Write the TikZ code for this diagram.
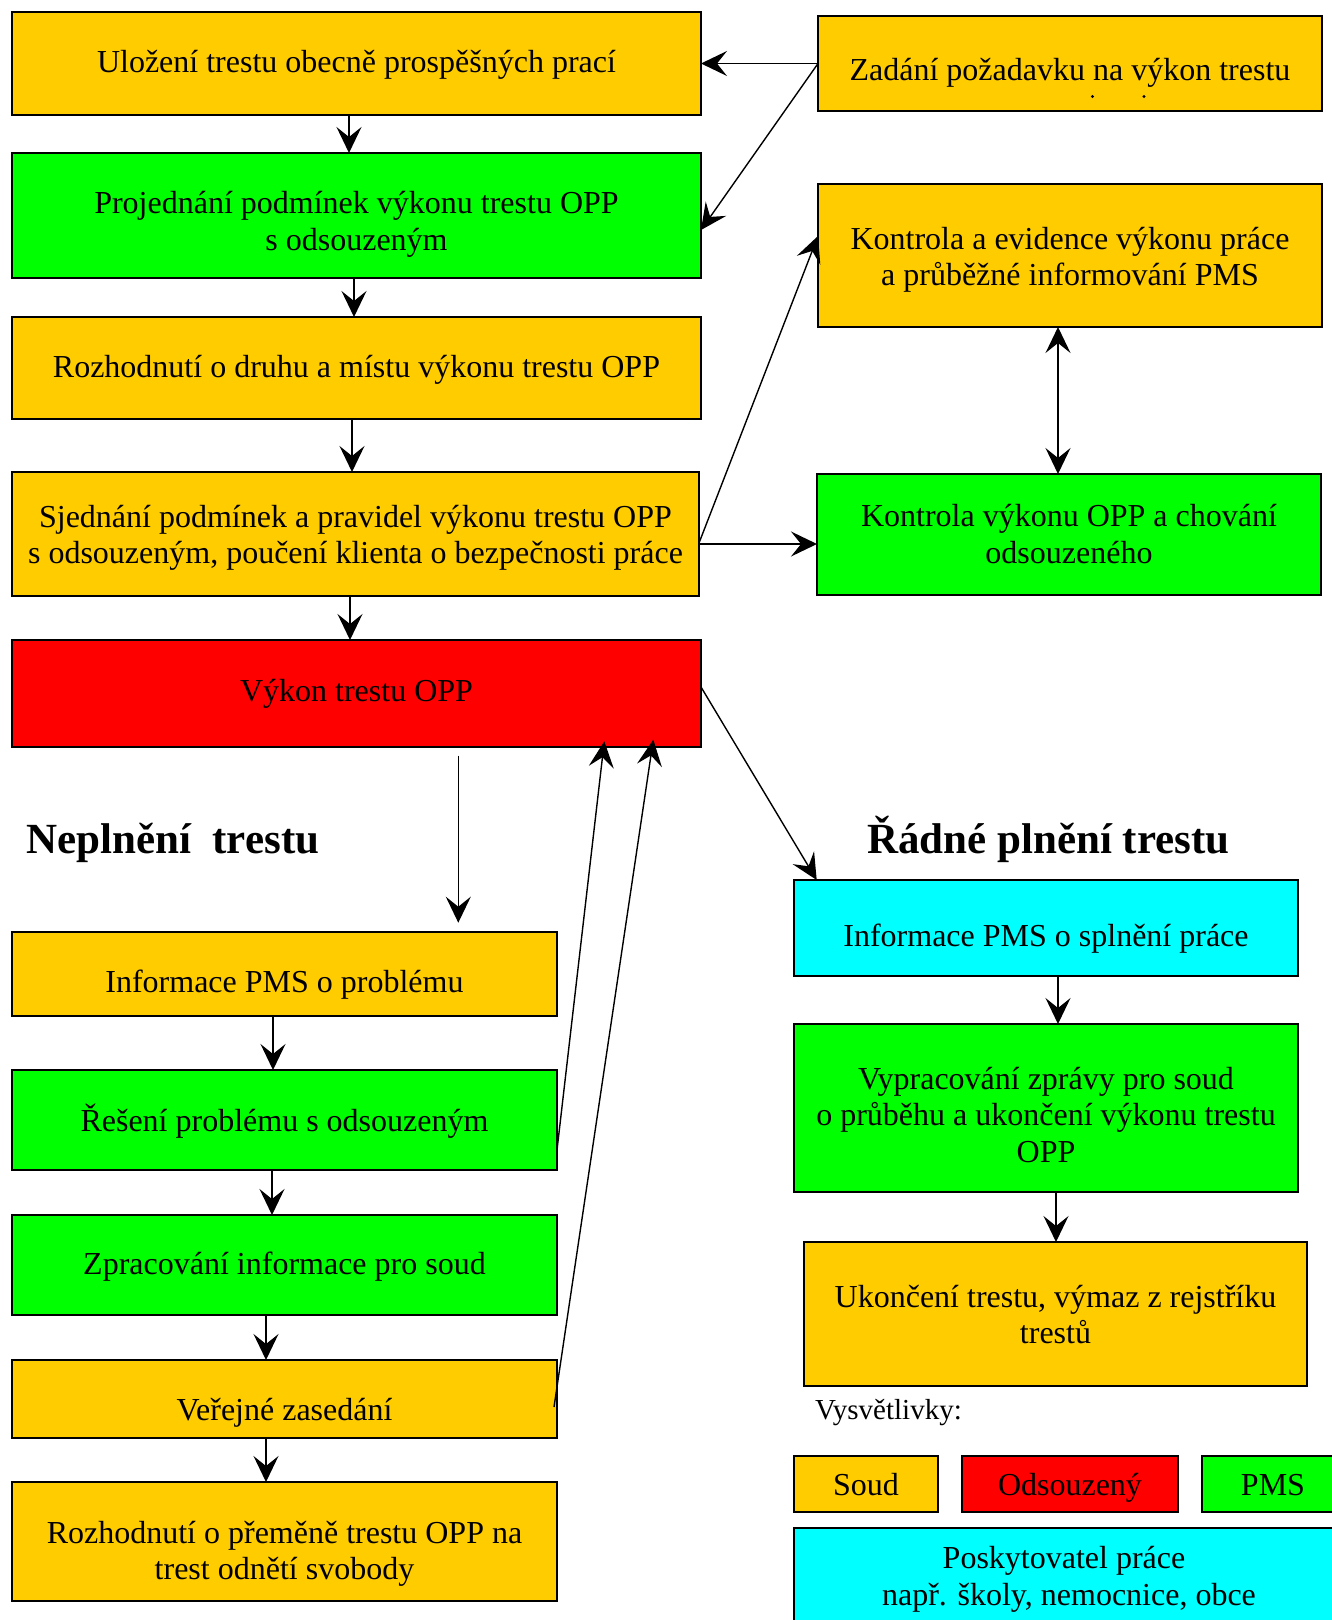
\documentclass[tikz,border=0pt]{standalone}
\usepackage{fontspec}
\setmainfont{Liberation Serif}
\usetikzlibrary{arrows.meta}
\definecolor{soud}{HTML}{FFCC00}
\definecolor{pmsgreen}{HTML}{00FF00}
\definecolor{odsred}{HTML}{FF0000}
\definecolor{poskcyan}{HTML}{00FFFF}
\tikzset{
  box/.style={draw=black, line width=2.4pt, inner sep=0pt, outer sep=0pt},
  txt/.style={align=center, inner sep=0pt, font=\fontsize{32}{36.6}\selectfont},
  head/.style={inner sep=0pt, font=\fontsize{43}{48}\selectfont\bfseries},
  arr/.style={line width=1.4pt, -{Stealth[length=26pt,width=25pt,inset=10pt]}},
  dbl/.style={line width=1.4pt, {Stealth[length=26pt,width=25pt,inset=10pt]}-{Stealth[length=26pt,width=25pt,inset=10pt]}}
}
% box with multi-line text centred at a given y
\newcommand\flowbox[8]{%
  \node[box, fill=#6, minimum width=#4pt, minimum height=#5pt] (#1) at (#2,#3) {};
  \node[txt] (#1-t) at (#2,#7) {#8};}
% box with one line of text whose baseline is at a given y
\newcommand\flowboxb[8]{%
  \node[box, fill=#6, minimum width=#4pt, minimum height=#5pt] (#1) at (#2,#3) {};
  \node[txt, anchor=base] (#1-t) at (#2,#7) {#8};}
\begin{document}
\begin{tikzpicture}[x=1pt,y=-1pt]
\useasboundingbox (0,0) rectangle (1332,1620);
\clip (0,0) rectangle (1332,1620);
\fill[white] (0,0) rectangle (1332,1620);
% left column
\flowbox{ulozeni}{356.5}{63.5}{689}{103}{soud}{65}{Uložení trestu obecně prospěšných prací}
\flowbox{projed}{356.5}{215.5}{689}{125}{pmsgreen}{224.5}{Projednání podmínek výkonu trestu OPP\\ s odsouzeným}
\flowbox{rozh}{356.5}{368}{689}{102}{soud}{369.7}{Rozhodnutí o druhu a místu výkonu trestu OPP}
\flowbox{sjed}{355.5}{534}{687}{124}{soud}{537.8}{Sjednání podmínek a pravidel výkonu trestu OPP\\ s odsouzeným, poučení klienta o bezpečnosti práce}
\flowbox{vykon}{356.5}{693.5}{689}{107}{odsred}{694}{Výkon trestu OPP}
% right top
\flowbox{zadani}{1070}{63.5}{504}{95}{soud}{73}{Zadání požadavku na výkon trestu}
\flowbox{kontrolaev}{1070}{255.5}{504}{143}{soud}{259.8}{Kontrola a evidence výkonu práce\\ a průběžné informování PMS}
\flowbox{kontrolavyk}{1069}{534.5}{504}{121}{pmsgreen}{534.2}{Kontrola výkonu OPP a chování\\ odsouzeného}
% left bottom
\flowbox{infoprob}{284.5}{974}{545}{84}{soud}{984.7}{Informace PMS o problému}
\flowbox{reseni}{284.5}{1120}{545}{100}{pmsgreen}{1121.3}{Řešení problému s odsouzeným}
\flowbox{zprac}{284.5}{1265}{545}{100}{pmsgreen}{1267}{Zpracování informace pro soud}
\flowbox{verejne}{284.5}{1399}{545}{78}{soud}{1413}{Veřejné zasedání}
\flowbox{premena}{284.5}{1541.5}{545}{119}{soud}{1554}{Rozhodnutí o přeměně trestu OPP na\\ trest odnětí svobody}
% right bottom
\flowbox{splneni}{1046}{928}{504}{96}{poskcyan}{938.3}{Informace PMS o splnění práce}
\flowbox{vyprac}{1046}{1108}{504}{168}{pmsgreen}{1114.7}{Vypracování zprávy pro soud\\ o průběhu a ukončení výkonu trestu\\ OPP}
\flowbox{ukonceni}{1055.5}{1314}{503}{144}{soud}{1314.4}{Ukončení trestu, výmaz z rejstříku\\ trestů}
% legend
\flowboxb{lsoud}{866}{1484}{144.5}{56}{soud}{1495}{Soud}
\flowboxb{lods}{1070}{1484}{216}{56}{odsred}{1495}{Odsouzený}
\flowboxb{lpms}{1273}{1484}{142}{56}{pmsgreen}{1495}{PMS}
\flowbox{lposk}{1064}{1584}{540}{112}{poskcyan}{1579.5}{Poskytovatel práce\\ \hspace*{10pt}např. školy, nemocnice, obce}
\node[anchor=base west, inner sep=0pt, font=\fontsize{29}{34}\selectfont] (vysv) at (815,1419.5) {Vysvětlivky:};
% headings
\node[head, anchor=base west] (nepl) at (26,853) {Neplnění\ \ trestu};
\node[head, anchor=base west] (radne) at (867,853) {Řádné plnění trestu};
% stray dots
\fill (1092.5,96.5) circle (1.6pt);
\fill (1144,96.5) circle (1.6pt);
% connectors
\draw[arr] ([xshift=-7.5pt]ulozeni.south) -- ([xshift=-7.5pt]projed.north);
\draw[arr] ([xshift=-2.5pt]projed.south) -- ([xshift=-2.5pt]rozh.north);
\draw[arr] ([xshift=-4.5pt]rozh.south) -- ([xshift=-3.5pt]sjed.north);
\draw[arr] ([xshift=-5.5pt]sjed.south) -- ([xshift=-6.5pt]vykon.north);
\draw[arr] (zadani.west) -- (ulozeni.east);
\draw[arr] (zadani.west) -- ([yshift=-14.5pt]projed.east);
\draw[arr] ([yshift=-9pt]sjed.east) -- ([yshift=19.5pt]kontrolaev.west);
\draw[arr] ([yshift=-10pt]sjed.east) -- ([yshift=-9.5pt]kontrolavyk.west);
\draw[dbl] ([xshift=-12pt]kontrolaev.south) -- ([xshift=-12pt]kontrolaev.south |- kontrolavyk.north);
\draw[arr] ([yshift=6.5pt]vykon.east) -- ([xshift=-229.3pt]splneni.north);
\coordinate (downA) at (458.3,755.7);
\coordinate (downB) at (458.3,922.7);
\draw[arr] (downA) -- (downB);
\draw[arr] ([xshift=-11.5pt]infoprob.south) -- ([xshift=-11.5pt]reseni.north);
\draw[arr] ([xshift=-12.5pt]reseni.south) -- ([xshift=-12.5pt]zprac.north);
\draw[arr] ([xshift=-18.5pt]zprac.south) -- ([xshift=-18.5pt]verejne.north);
\draw[arr] ([xshift=-18.5pt]verejne.south) -- ([xshift=-18.5pt]premena.north);
\draw[arr] ([yshift=-30pt]reseni.east) -- ([xshift=247.8pt,yshift=5.7pt]vykon.south);
\draw[arr] ([xshift=-3pt,yshift=-8pt]verejne.east) -- ([xshift=296.8pt,yshift=7.4pt]vykon.south);
\draw[arr] ([xshift=12pt]splneni.south) -- ([xshift=12pt]vyprac.north);
\draw[arr] ([xshift=10pt]vyprac.south) -- ([xshift=10pt]vyprac.south |- ukonceni.north);
\end{tikzpicture}
\end{document}
